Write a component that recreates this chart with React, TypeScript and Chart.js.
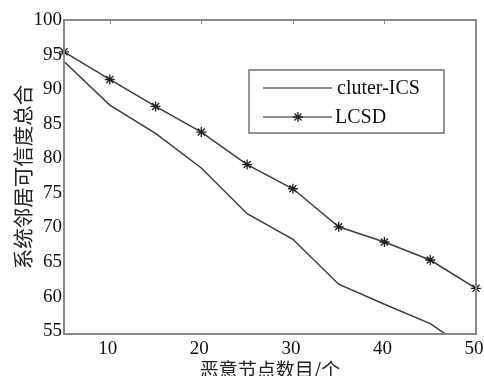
import React, { useEffect, useRef } from "react";
import { Chart, registerables } from "chart.js";

Chart.register(...registerables);

const xValues = [5, 10, 15, 20, 25, 30, 35, 40, 45, 50];
const clusterICS = [94.0, 87.7, 83.6, 78.6, 72.0, 68.3, 61.8, 58.9, 56.1, 51.6];
const lcsd = [95.4, 91.4, 87.5, 83.8, 79.1, 75.6, 70.1, 67.9, 65.3, 61.2];
const xTicks = [10, 20, 30, 40, 50];
const yTicks = [55, 60, 65, 70, 75, 80, 85, 90, 95, 100];
const seriesNames = ["cluter-ICS", "LCSD"];
const xTitle = "恶意节点数目/个";
const yTitle = "系统邻居可信度总合";

const LINE = "#3d3d3d";
const AXIS = "#8a8a8a";
const SERIF = "'Liberation Serif', 'Times New Roman', serif";
const CJK = "'Noto Sans CJK SC', sans-serif";

function star(ctx: CanvasRenderingContext2D, x: number, y: number, r: number) {
  const d = r * Math.SQRT1_2;
  ctx.beginPath();
  ctx.moveTo(x - r, y); ctx.lineTo(x + r, y);
  ctx.moveTo(x, y - r); ctx.lineTo(x, y + r);
  ctx.moveTo(x - d, y - d); ctx.lineTo(x + d, y + d);
  ctx.moveTo(x - d, y + d); ctx.lineTo(x + d, y - d);
  ctx.stroke();
}

const framePlugin = {
  id: "frame",
  afterDatasetsDraw(chart: any) {
    const { ctx, chartArea: a } = chart;
    const xs = chart.scales.x;
    ctx.save();
    ctx.strokeStyle = AXIS;
    ctx.lineWidth = 2;
    ctx.strokeRect(a.left, a.top, a.right - a.left, a.bottom - a.top);
    ctx.lineWidth = 1;
    for (const t of [10, 20, 30, 40]) {
      const px = Math.round(xs.getPixelForValue(t)) + 0.5;
      ctx.beginPath();
      ctx.moveTo(px, a.top);
      ctx.lineTo(px, a.top + 4);
      ctx.stroke();
    }
    // legend
    const lx = 249, ly = 70, lw = 195, lh = 63;
    ctx.fillStyle = "#ffffff";
    ctx.fillRect(lx, ly, lw, lh);
    ctx.strokeStyle = "#707070";
    ctx.lineWidth = 1.5;
    ctx.strokeRect(lx, ly, lw, lh);
    const names = chart.data.datasets.map((d: any) => d.label);
    const rows = [88, 117];
    ctx.font = "20px " + SERIF;
    ctx.textBaseline = "middle";
    ctx.textAlign = "left";
    rows.forEach((ry, i) => {
      ctx.strokeStyle = "#6a6a6a";
      ctx.lineWidth = 1.5;
      ctx.beginPath();
      ctx.moveTo(263, ry);
      ctx.lineTo(332, ry);
      ctx.stroke();
      if (i === 1) {
        ctx.strokeStyle = "#222";
        ctx.lineWidth = 1.3;
        star(ctx, 298, ry, 5);
      }
      ctx.fillStyle = "#111";
      ctx.fillText(names[i], i === 0 ? 337 : 335, ry + 1);
    });
    ctx.restore();
  },
};

export default function App() {
  const ref = useRef<HTMLCanvasElement | null>(null);
  useEffect(() => {
    if (!ref.current) return;
    const chart = new Chart(ref.current, {
      type: "line",
      data: {
        datasets: [
          {
            label: seriesNames[0],
            data: xValues.map((x, i) => ({ x, y: clusterICS[i] })),
            borderColor: LINE,
            borderWidth: 1.5,
            pointRadius: 0,
            tension: 0,
            clip: { left: 5, top: 5, right: 5, bottom: 0 } as any,
          },
          {
            label: seriesNames[1],
            data: xValues.map((x, i) => ({ x, y: lcsd[i] })),
            borderColor: LINE,
            borderWidth: 1.5,
            pointStyle: "star",
            pointRadius: 5,
            pointBorderColor: "#1e1e1e",
            pointBorderWidth: 1.3,
            tension: 0,
            clip: false as any,
          },
        ],
      },
      options: {
        animation: false,
        responsive: false,
        layout: { padding: { top: 20, right: 8, left: 0, bottom: 0 } },
        plugins: { legend: { display: false }, tooltip: { enabled: false } },
        scales: {
          x: {
            type: "linear",
            min: 5,
            max: 50,
            afterBuildTicks: (s: any) => { s.ticks = xTicks.map((v) => ({ value: v })); },
            afterFit: (s: any) => { s.height = 42; s.paddingLeft = 0; s.paddingRight = 0; },
            grid: { display: false, drawTicks: false },
            border: { display: false },
            ticks: { autoSkip: false, maxRotation: 0, padding: 4, labelOffset: -2, color: "#111", font: { family: SERIF, size: 19 } },
            title: {
              display: true,
              text: xTitle,
              color: "#222",
              font: { family: CJK, size: 19, lineHeight: 1 },
              padding: { top: 0, bottom: -3 },
            },
          },
          y: {
            type: "linear",
            min: 54.6,
            max: 100,
            afterBuildTicks: (s: any) => { s.ticks = yTicks.map((v) => ({ value: v })); },
            afterFit: (s: any) => { s.width = 64; s.paddingTop = 0; s.paddingBottom = 0; },
            grid: { display: false, drawTicks: false },
            border: { display: false },
            ticks: { autoSkip: false, padding: 2, color: "#111", font: { family: SERIF, size: 19 } },
            title: {
              display: true,
              text: yTitle,
              color: "#222",
              font: { family: CJK, size: 20.5, lineHeight: 1.2 },
              padding: { top: 11, bottom: 0 },
            },
          },
        },
      },
      plugins: [framePlugin],
    });
    return () => chart.destroy();
  }, []);
  return (
    <div style={{ position: "absolute", left: 0, top: 0, width: 484, height: 376, background: "#fff" }}>
      <canvas ref={ref} width={484} height={376} />
    </div>
  );
}
